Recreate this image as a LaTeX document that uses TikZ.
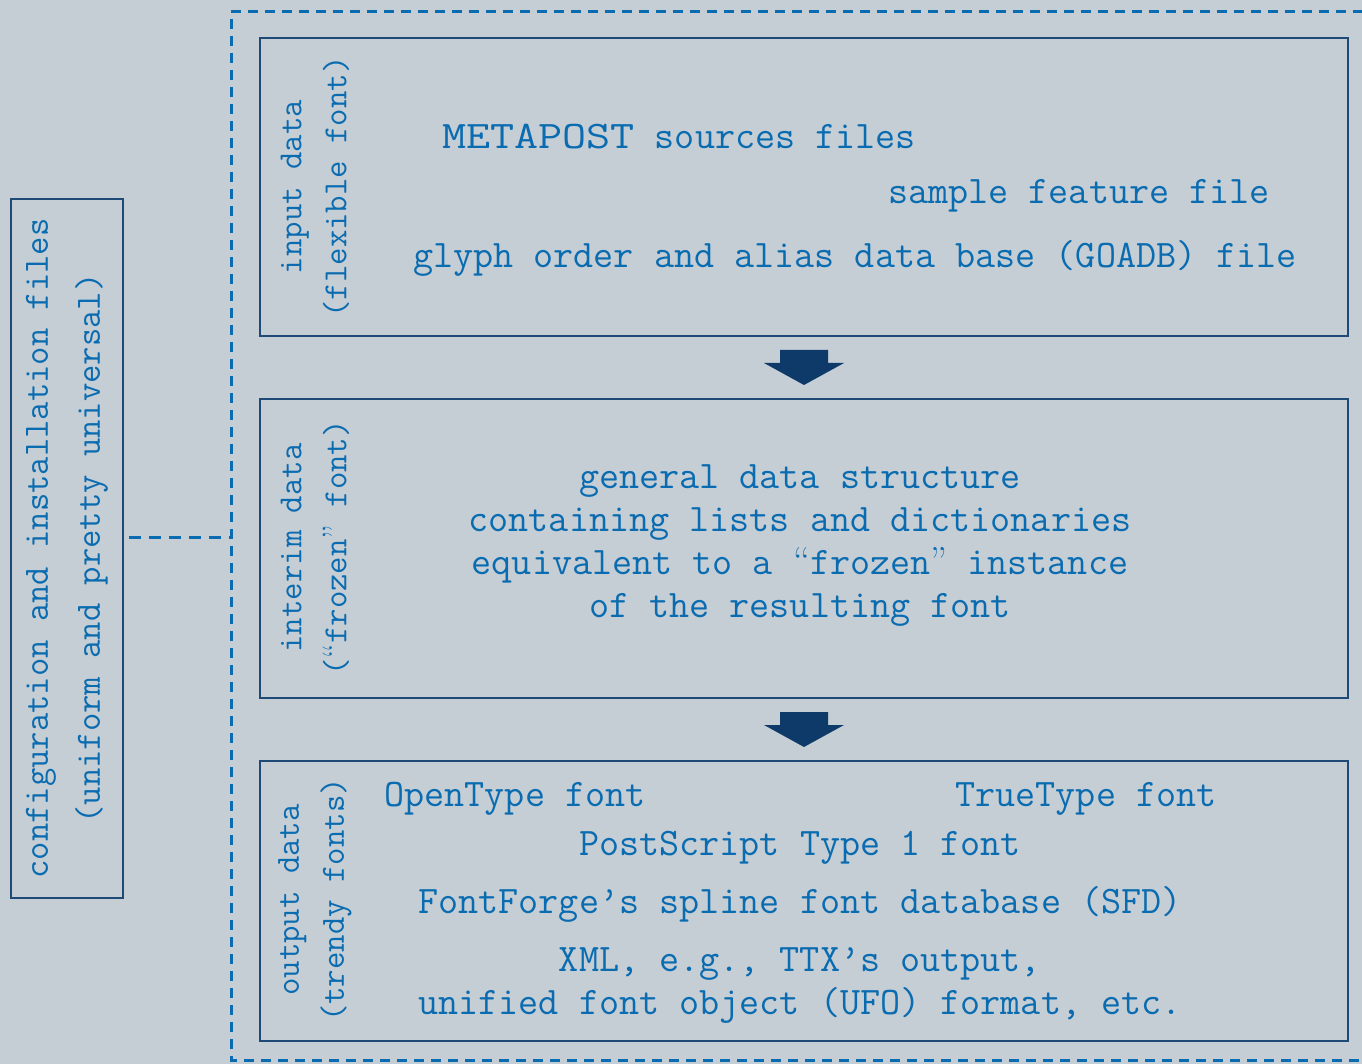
\documentclass[tikz,border=0pt]{standalone}
\usetikzlibrary{calc}
\definecolor{bg}{HTML}{C5CDD5}
\definecolor{txt}{HTML}{0A6CB0}
\definecolor{navy}{HTML}{1F4A78}
\definecolor{arrowc}{HTML}{0D3A69}
\newcommand{\myoq}{{\rmfamily“}}
\newcommand{\mycq}{{\rmfamily”}}
\begin{document}
\begin{tikzpicture}[x=0.5pt,y=-0.5pt,
  every node/.style={text=txt,inner sep=0pt},
  body/.style={font=\fontsize{19.5}{21.5}\selectfont\ttfamily,align=center},
  side/.style={font=\fontsize{16.9}{22.5}\selectfont\ttfamily,align=center,rotate=90},
  bigside/.style={font=\fontsize{17.8}{26}\selectfont\ttfamily,align=center,rotate=90},
  stagebox/.style={draw=navy,line width=1pt,rectangle,minimum width=544pt,anchor=north west},
  flowarrow/.style={fill=arrowc},
  outerdash/.style={draw=txt,line width=1.5pt,dash pattern=on 5pt off 3.5pt},
  linkdash/.style={draw=txt,line width=1.5pt,dash pattern=on 6pt off 4pt}]
\useasboundingbox (0,0) rectangle (1362,1064);
\fill[bg] (0,0) rectangle (1362,1064);
% outer dashed frame
\coordinate (ftl) at (231,12);
\coordinate (fbl) at (231,1060);
\draw[outerdash] (1380,12) -- (ftl) -- (fbl) -- (1380,1060);
% left box
\node[draw=navy,line width=1pt,minimum width=56pt,minimum height=349.5pt,anchor=north west] (cfg) at (10,198) {};
\node[bigside] (cfgt) at (cfg.center) {configuration and installation files\\(uniform and pretty universal)};
\coordinate (fmid) at (231,538);
\draw[linkdash] (cfg.east |- fmid) ++(5,0) -- (fmid);
% stage boxes
\node[stagebox,minimum height=149pt] (b1) at (259,37) {};
\node[stagebox,minimum height=149.5pt] (b2) at (259,398) {};
\node[stagebox,minimum height=140pt] (b3) at (259,760) {};
% side labels
\node[side] (l1) at (315,187) {input data\\(flexible font)};
\node[side] (l2) at (315,548) {interim data\\(\myoq frozen\mycq\ font)};
\node[side] (l3) at (315,900) {output data\\(trendy fonts)};
% box 1 content
\node[body] (t11) at (679,137) {\scalebox{1.2}[1]{METAPOST} sources files};
\node[body] (t12) at (1079,196) {sample feature file};
\node[body] (t13) at (855,258) {glyph order and alias data base (GOADB) file};
% box 2 content
\node[body] (t21) at (800,546) {general data structure\\containing lists and dictionaries\\equivalent to a \myoq frozen\mycq\ instance\\of the resulting font};
% box 3 content
\node[body] (t31) at (515,799) {OpenType font};
\node[body] (t32) at (1086,799) {TrueType font};
\node[body] (t33) at (800,848) {PostScript Type 1 font};
\node[body] (t34) at (800,904) {FontForge’s spline font database (SFD)};
\node[body] (t35) at (800,986) {XML, e.g., TTX’s output,\\unified font object (UFO) format, etc.};
% arrows
\foreach \a/\b in {b1/b2,b2/b3}{
  \coordinate (top) at ($(\a.south)+(0,13)$);
  \fill[flowarrow] (top) ++(-24,0) -- ++(48,0) -- ++(0,13) -- ++(16,0) -- ($(\b.north)+(0,-13)$) -- ($(top)+(-40,13)$) -- ($(top)+(-24,13)$) -- cycle;
}
\end{tikzpicture}
\end{document}
